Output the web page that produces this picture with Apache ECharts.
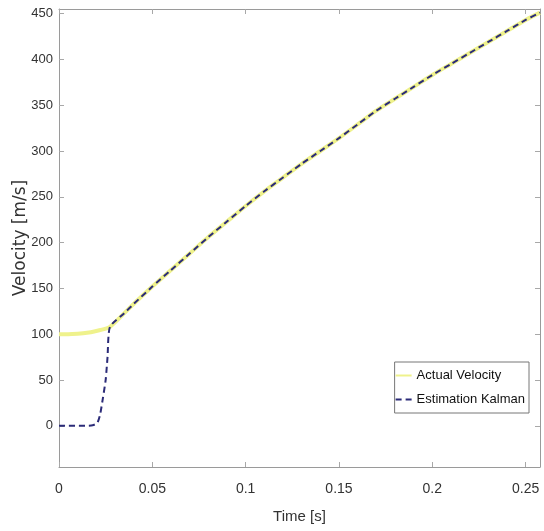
<!DOCTYPE html>
<html>
<head>
<meta charset="utf-8">
<script src="https://cdn.jsdelivr.net/npm/echarts@6/dist/echarts.min.js"></script>
<style>html,body{margin:0;padding:0;background:#fff}#c{width:544px;height:531px}</style>
</head>
<body>
<div id="c"></div>
<script>
// Data
const tActual = [0, 0.005, 0.01, 0.015, 0.02, 0.025, 0.0273, 0.035, 0.04, 0.05, 0.06, 0.07, 0.08, 0.09, 0.1, 0.11, 0.12, 0.13, 0.14, 0.15, 0.16, 0.17, 0.18, 0.19, 0.2, 0.21, 0.22, 0.23, 0.24, 0.25, 0.2577];
const vActual = [100, 100, 100.5, 101.5, 103.5, 106, 108, 123, 133, 152, 170, 188, 206, 223, 240, 256, 271, 286, 300, 314, 329, 344, 357, 370, 383, 395, 407, 419, 431, 443, 451];
const tKalman = [0, 0.005, 0.01, 0.015, 0.018, 0.0205, 0.022, 0.0235, 0.025, 0.026, 0.0273, 0.035, 0.04, 0.05, 0.06, 0.07, 0.08, 0.09, 0.1, 0.11, 0.12, 0.13, 0.14, 0.15, 0.16, 0.17, 0.18, 0.19, 0.2, 0.21, 0.22, 0.23, 0.24, 0.25, 0.2577];
const vKalman = [0, 0, 0, 0, 0.5, 3, 12, 30, 50, 75, 108, 123, 133, 152, 170, 188, 206, 223, 240, 256, 271, 286, 300, 314, 329, 344, 357, 370, 383, 395, 407, 419, 431, 443, 451];
const seriesNames = ['Actual Velocity', 'Estimation Kalman'];
const xTicks = [0, 0.05, 0.1, 0.15, 0.2, 0.25];
const yTicks = [0, 50, 100, 150, 200, 250, 300, 350, 400, 450];
const xLabel = 'Time [s]';
const yLabel = 'Velocity [m/s]';

const FONT = '"Liberation Sans Narrow", "Liberation Sans", Arial, sans-serif';
const pairs = (t, v) => t.map((x, i) => [x, v[i]]);

const chart = echarts.init(document.getElementById('c'), null, {renderer: 'canvas'});
function axis(extra, ticks) {
  return Object.assign({
    type: 'value',
    axisLine: {show: true, onZero: false, lineStyle: {color: '#9a9a9a', width: 1}},
    axisTick: {show: true, inside: true, length: 5, customValues: ticks, lineStyle: {color: '#a8a8a8'}},
    splitLine: {show: false}
  }, extra);
}
chart.setOption({
  animation: false,
  backgroundColor: '#fff',
  grid: {left: 59, right: 4, top: 9, bottom: 64, show: false, containLabel: false, outerBoundsMode: 'none'},
  xAxis: [
    axis({
      position: 'bottom', min: 0, max: 0.2577,
      axisLabel: {color: '#333', fontSize: 14, fontFamily: FONT, margin: 15, customValues: xTicks},
      name: xLabel, nameLocation: 'middle', nameGap: 42, nameMoveOverlap: false,
      nameTextStyle: {color: '#333', fontSize: 15, fontFamily: FONT}
    }, xTicks),
    axis({position: 'top', min: 0, max: 0.2577, axisLabel: {show: false}}, xTicks)
  ],
  yAxis: [
    axis({
      position: 'left', min: -45, max: 455,
      axisLabel: {color: '#333', fontSize: 13, fontFamily: FONT, margin: 6, customValues: yTicks},
      name: yLabel, nameLocation: 'middle', nameGap: 30, nameMoveOverlap: false,
      nameTextStyle: {color: '#333', fontSize: 17, fontFamily: '"DejaVu Sans", sans-serif'}
    }, yTicks),
    axis({position: 'right', min: -45, max: 455, axisLabel: {show: false}}, yTicks)
  ],
  legend: {
    right: 15, top: 362, orient: 'vertical',
    itemWidth: 16, itemHeight: 10, itemGap: 11,
    padding: [7, 4, 7, 0],
    borderColor: '#777', borderWidth: 1, backgroundColor: '#fff',
    textStyle: {color: '#111', fontSize: 13, fontFamily: FONT},
    itemStyle: {opacity: 0},
    data: seriesNames
  },
  series: [
    {
      name: seriesNames[0], type: 'line', data: pairs(tActual, vActual),
      symbol: 'none', smooth: 0.3,
      lineStyle: {color: '#eff28c', width: 4}, itemStyle: {color: '#eff28c'}
    },
    {
      name: seriesNames[1], type: 'line', data: pairs(tKalman, vKalman),
      symbol: 'none', smooth: 0.2,
      lineStyle: {color: '#2b2b78', width: 2, type: [6, 4]}, itemStyle: {color: '#2b2b78'}
    }
  ]
});
</script>
</body>
</html>
